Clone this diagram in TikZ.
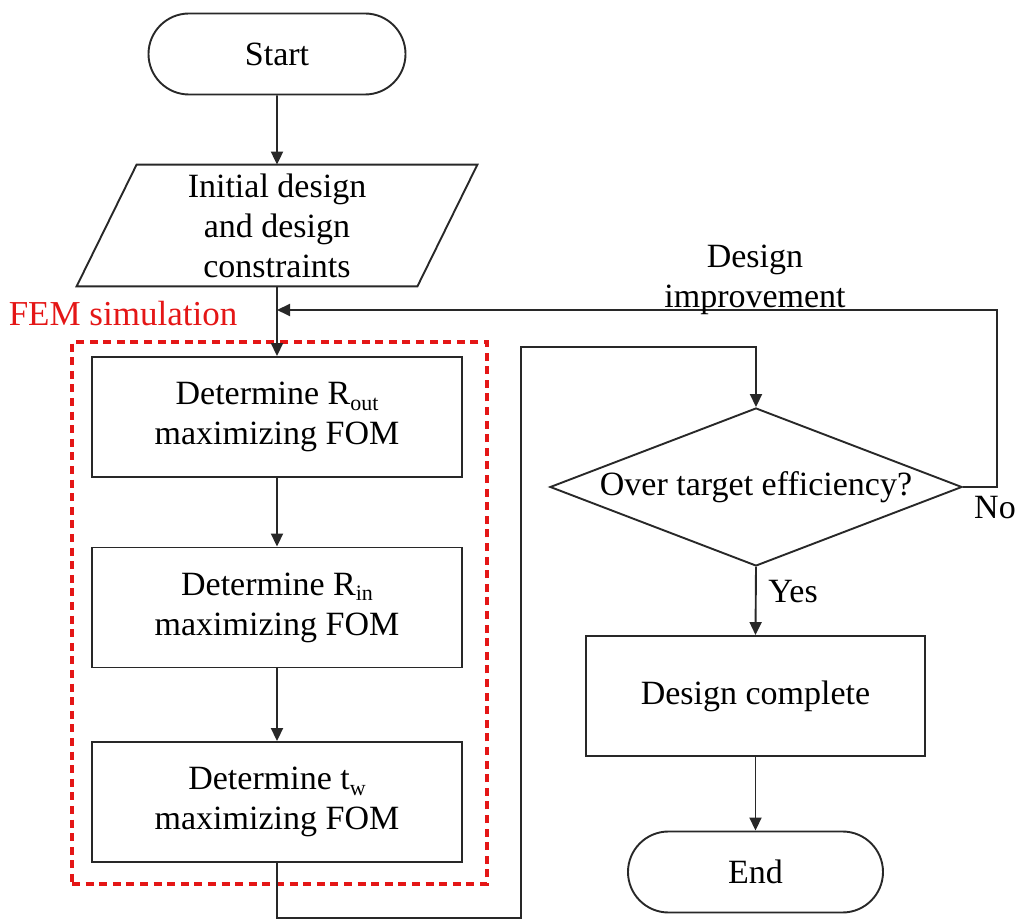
\documentclass[tikz,border=0pt]{standalone}
\usepackage{fontspec}
\setmainfont{Liberation Serif}
\usetikzlibrary{shapes.geometric,shapes.misc,arrows.meta,calc}
\definecolor{femred}{RGB}{228,22,22}
\definecolor{ln}{RGB}{40,40,40}
\newcommand{\smsub}[1]{\raisebox{-0.35ex}{\fontsize{11}{12}\selectfont #1}}
\begin{document}
\begin{tikzpicture}[x=0.5pt,y=-0.5pt,
  every node/.style={font=\fontsize{17}{20}\selectfont, text=black},
  line/.style={draw=ln, line width=0.95pt},
  arr/.style={line, -{Triangle[length=6.5pt,width=6pt]}},
  proc/.style={rectangle, line, minimum width=185pt, minimum height=60pt, align=center, inner sep=0pt},
  procb/.style={rectangle, line, minimum width=169.5pt, minimum height=60pt, align=center, inner sep=0pt},
  term/.style={rounded rectangle, line, minimum height=40.5pt, align=center, inner sep=0pt},
  femstyle/.style={rectangle, draw=femred, line width=2.4pt, dash pattern=on 4pt off 2.8pt, minimum width=207.5pt, minimum height=271pt, inner sep=0pt},
  lbl/.style={align=center, inner sep=0pt}
]
\useasboundingbox (0,0) rectangle (1018,924);

% FEM dashed group
\node[femstyle] (fem) at (279.5,613) {};
\node[lbl, text=femred, font=\fontsize{17.5}{20}\selectfont] (femlbl) at (123,314) {FEM simulation};

% nodes
\node[term, minimum width=128.5pt] (start) at (277,54) {Start};
\node[rectangle, minimum width=170pt, minimum height=60.5pt, inner sep=0pt, align=center] (init) at (277,225.5) {Initial design\\and design\\constraints};
\draw[line] ($(init.north west)+(30,0)$) -- ($(init.north east)+(30,0)$) -- ($(init.south east)+(-30,0)$) -- ($(init.south west)+(-30,0)$) -- cycle;

\node[proc] (b1) at (277,417) {Determine R\smsub{out}\\maximizing FOM};
\node[proc] (b2) at (277,607.5) {Determine R\smsub{in}\\maximizing FOM};
\node[proc] (b3) at (277,802) {Determine t\smsub{w}\\maximizing FOM};

\node[diamond, line, aspect=2.6, inner sep=0pt, minimum width=206pt, minimum height=79pt] (dec) at (756,487) {Over target efficiency?};
\node[procb] (done) at (755.5,696) {Design complete};
\node[term, minimum width=127.5pt] (end) at (755.5,872) {End};

% coordinates
\coordinate (p1) at (277,918);
\coordinate (p2) at (521,918);
\coordinate (p3) at (521,347);
\coordinate (p4) at (756,347);
\coordinate (q1) at (997,487);
\coordinate (q2) at (997,310);
\coordinate (join) at (277,310);

% connectors
\draw[arr] (start) -- (init);
\draw[arr] (init) -- (b1);
\draw[arr] (b1) -- (b2);
\draw[arr] (b2) -- (b3);
\draw[arr] (b3.south) -- (p1) -- (p2) -- (p3) -- (p4) -- (dec.north);
\draw[arr] (dec.east) -- (q1) -- (q2) -- (join);
\draw[arr] (dec.south) -- (done.north);
\draw[arr] (done) -- (end);

% labels
\node[lbl] (imp) at (755,280) {Design\\improvement};
\node[lbl] (no) at (995,508) {No};
\node[lbl] (yes) at (793,592) {Yes};
\end{tikzpicture}
\end{document}
